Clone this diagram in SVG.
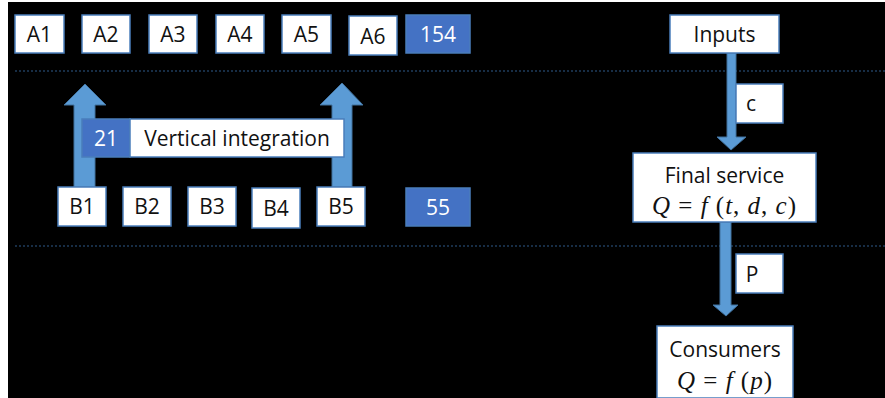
<svg xmlns="http://www.w3.org/2000/svg" width="885" height="398" viewBox="0 0 885 398">
<style>
.box{fill:#fff;stroke:#4a7ebb;stroke-width:1.5}
.blue{fill:#4472c4;stroke:#4a7ebb;stroke-width:1.5}
.t{font-family:"Open Sans","Liberation Sans",sans-serif;font-size:21px;fill:#111;text-anchor:middle}
.tw{font-family:"Open Sans","Liberation Sans",sans-serif;font-size:21px;fill:#fff;text-anchor:middle}
.m{font-family:"Liberation Serif","DejaVu Serif",serif;font-size:25px;fill:#111;text-anchor:middle;letter-spacing:1px}
.arr{fill:#5b9bd5;stroke:#41719c;stroke-width:1}
.dot{stroke:#2e5a8a;stroke-width:1.2;stroke-dasharray:2 2}
</style>
<rect x="0" y="0" width="885" height="398" fill="#fff"/>
<rect x="8" y="2" width="877" height="396" fill="#000"/>
<g id="connectors">
<line class="dot" x1="15" y1="71" x2="885" y2="71"/>
<line class="dot" x1="15" y1="246" x2="885" y2="246"/>
<polygon class="arr" points="74,187 74,105 64,105 85,84 106,105 95,105 95,187"/>
<polygon class="arr" points="332,187 332,105 320,105 342,83 363,105 352,105 352,187"/>
<polygon class="arr" points="727,53 736,53 736,137 746,137 731,150 717,137 727,137"/>
<polygon class="arr" points="720,222 731,222 731,305 738,305 726,316 713,305 720,305"/>
</g>
<g id="A1"><rect class="box" x="15" y="15" width="49" height="38"/><text class="t" x="39.5" y="42">A1</text></g>
<g id="A2"><rect class="box" x="82" y="15" width="48" height="38"/><text class="t" x="106" y="42">A2</text></g>
<g id="A3"><rect class="box" x="149" y="15" width="48" height="38"/><text class="t" x="173" y="42">A3</text></g>
<g id="A4"><rect class="box" x="216" y="15" width="48" height="38"/><text class="t" x="240" y="42">A4</text></g>
<g id="A5"><rect class="box" x="282" y="15" width="49" height="38"/><text class="t" x="306.5" y="42">A5</text></g>
<g id="A6"><rect class="box" x="349" y="16" width="48" height="39"/><text class="t" x="373" y="44">A6</text></g>
<g id="n154"><rect class="blue" x="406" y="15" width="64" height="38"/><text class="tw" x="438" y="42">154</text></g>
<g id="vi"><rect class="blue" x="82" y="119" width="48" height="38"/><text class="tw" x="106" y="146">21</text><rect class="box" x="130" y="119" width="214" height="38"/><text class="t" x="237" y="146">Vertical integration</text></g>
<g id="B1"><rect class="box" x="58" y="187" width="48" height="39"/><text class="t" x="82" y="214">B1</text></g>
<g id="B2"><rect class="box" x="123" y="187" width="48" height="39"/><text class="t" x="147" y="214">B2</text></g>
<g id="B3"><rect class="box" x="188" y="187" width="48" height="39"/><text class="t" x="212" y="214">B3</text></g>
<g id="B4"><rect class="box" x="252" y="188" width="48" height="40"/><text class="t" x="276" y="216">B4</text></g>
<g id="B5"><rect class="box" x="317" y="187" width="48" height="39"/><text class="t" x="341" y="214">B5</text></g>
<g id="n55"><rect class="blue" x="406" y="188" width="64" height="38"/><text class="tw" x="438" y="215">55</text></g>
<g id="inputs"><rect class="box" x="670" y="15" width="109" height="38"/><text class="t" x="724.5" y="42">Inputs</text></g>
<g id="c"><rect class="box" x="736" y="84" width="47" height="39"/><text class="t" x="751" y="111">c</text></g>
<g id="final"><rect class="box" x="633" y="153" width="183" height="69"/><text class="t" x="724.5" y="183">Final service</text><text class="m" x="724.5" y="214"><tspan font-style="italic">Q</tspan> = <tspan font-style="italic">f</tspan> (<tspan font-style="italic">t</tspan>, <tspan font-style="italic">d</tspan>, <tspan font-style="italic">c</tspan>)</text></g>
<g id="p"><rect class="box" x="736" y="254" width="47" height="39"/><text class="t" x="752" y="282">P</text></g>
<g id="consumers"><rect class="box" x="657" y="326" width="136" height="72"/><text class="t" x="725" y="357">Consumers</text><text class="m" x="725" y="389"><tspan font-style="italic">Q</tspan> = <tspan font-style="italic">f</tspan> (<tspan font-style="italic">p</tspan>)</text></g>
</svg>
